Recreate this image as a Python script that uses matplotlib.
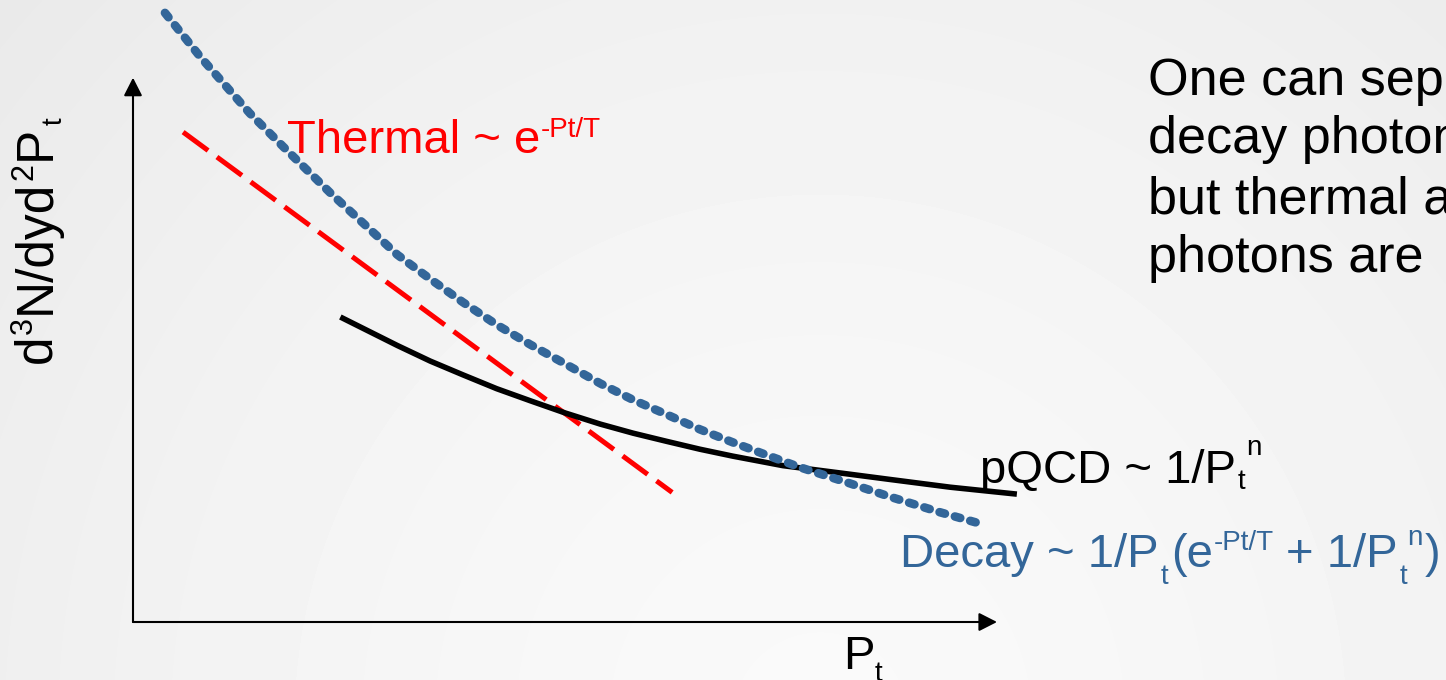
import numpy as np
import matplotlib
matplotlib.use("Agg")
import matplotlib.pyplot as plt
from matplotlib.patches import FancyArrowPatch, ArrowStyle
from matplotlib.transforms import Affine2D

plt.rcParams['font.family'] = ['Liberation Sans', 'DejaVu Sans']

# ---- spectra (Pt in arbitrary units, yield in arbitrary units) ----
decay_pt = [0.37, 0.78, 1.35, 1.74, 2.28, 2.66, 3.06, 3.44, 3.82, 4.21, 4.60, 4.98,
            5.41, 5.79, 6.18, 6.56, 6.94, 7.34, 7.72, 8.28, 8.76, 9.34, 9.80]
decay_y = [7.05, 6.54, 5.89, 5.50, 4.97, 4.62, 4.25, 3.97, 3.70, 3.44, 3.21, 3.00,
           2.76, 2.57, 2.40, 2.23, 2.08, 1.93, 1.79, 1.61, 1.45, 1.27, 1.14]

pqcd_pt = [2.40, 2.74, 3.06, 3.44, 3.82, 4.21, 4.60, 5.00, 5.41, 5.79, 6.18, 6.56,
           6.94, 7.52, 8.30, 8.76, 9.46, 10.23]
pqcd_y = [3.53, 3.36, 3.20, 3.02, 2.86, 2.70, 2.56, 2.42, 2.29, 2.185, 2.09, 2.00,
          1.92, 1.81, 1.71, 1.65, 1.56, 1.48]

thermal_pt = [0.58, 6.24]
thermal_y = [5.67, 1.50]

x_axis_end = 10.0
y_axis_end = 6.30

x_label = "P"
y_label_parts = ["d", "3", "N/dyd", "2", "P"]
subscript = "t"
note_lines = ["One can separate", "decay photons", "but thermal and", "photons are"]

W, H = 1446, 680
ORIGIN_X, ORIGIN_Y, UNIT = 133, 622, 86.4

fig = plt.figure(figsize=(W / 100, H / 100), dpi=100)

# soft grey slide background
bg = fig.add_axes([0, 0, 1, 1])
bg.axis('off')
yy, xx = np.mgrid[0:H, 0:W]
dist = np.hypot(xx - 820, yy - 720) / 1000.0
shade = 0.978 - 0.055 * dist ** 1.5
bg.imshow(shade, cmap='gray', vmin=0, vmax=1, extent=(0, W, H, 0),
          aspect='auto', interpolation='bilinear')
bg.set_xlim(0, W)
bg.set_ylim(H, 0)

ax = fig.add_axes([0, 0, 1, 1])
ax.patch.set_alpha(0)
ax.axis('off')
ax.set_xlim(-ORIGIN_X / UNIT, (W - ORIGIN_X) / UNIT)
ax.set_ylim(-(H - ORIGIN_Y) / UNIT, ORIGIN_Y / UNIT)

# coordinate arrows
head = ArrowStyle("-|>", head_length=11, head_width=5.6)
for end in [(x_axis_end, 0), (0, y_axis_end)]:
    ax.add_patch(FancyArrowPatch((0, 0), end, arrowstyle=head, mutation_scale=1,
                                 shrinkA=0, shrinkB=0, lw=1.5, color='black',
                                 zorder=2))

# curves
ax.plot(thermal_pt, thermal_y, color='#ff0000', lw=3.6, dashes=(6.2, 2.2),
        dash_capstyle='butt', zorder=3)
ax.plot(pqcd_pt, pqcd_y, color='black', lw=4.0, solid_capstyle='butt',
        solid_joinstyle='round', zorder=4)
ax.plot(decay_pt, decay_y, color='#336699', lw=6.2, dashes=(0.65, 1.2),
        dash_capstyle='round', dash_joinstyle='round', zorder=5)

# text helpers (top-left pixel positions, baseline anchored)
pix = Affine2D().scale(1, -1).translate(0, H)
renderer = fig.canvas.get_renderer()


def write_runs(x, y, runs, color, vertical=False):
    for text, size, rise, gap in runs:
        if vertical:
            y -= gap
            t = fig.text(x - rise, y, text, transform=pix, fontsize=size,
                         color=color, rotation=90, rotation_mode='anchor',
                         ha='left', va='baseline')
            y -= t.get_window_extent(renderer).height
        else:
            x += gap
            t = fig.text(x, y - rise, text, transform=pix, fontsize=size,
                         color=color, ha='left', va='baseline')
            x += t.get_window_extent(renderer).width


BIG, SMALL = 34, 20

write_runs(287, 153, [("Thermal ~ e", BIG, 0, 0), ("-Pt/T", SMALL, 16, 1)], '#ff0000')
write_runs(980, 483, [("pQCD ~ 1/P", BIG, 0, 0), (subscript, SMALL, -6, 2),
                      ("n", SMALL, 28, 1)], 'black')
write_runs(900, 567, [("Decay ~ 1/P", BIG, 0, 0), (subscript, SMALL, -17, 2),
                      ("(e", BIG, 0, 3), ("-Pt/T", SMALL, 17, 1),
                      ("+ 1/P", BIG, 0, 12), (subscript, SMALL, -17, 2),
                      ("n", SMALL, 22, 0), (")", BIG, 0, 2)], '#336699')
write_runs(843, 669, [(x_label, BIG, 0, 0), (subscript, SMALL, -12, 0)], 'black')
write_runs(50, 363, [(y_label_parts[0], 37, 0, 0), (y_label_parts[1], 22, 18, 0),
                     (y_label_parts[2], 37, 0, 3), (y_label_parts[3], 22, 18, 0),
                     (y_label_parts[4], 37, 0, 3), (subscript, SMALL, -12, 1)],
           'black', vertical=True)

for i, line in enumerate(note_lines):
    fig.text(1148, [95, 153, 213, 272][i], line, transform=pix, fontsize=37.5,
             color='black', ha='left', va='baseline')

fig.savefig("out.png", dpi=100)
